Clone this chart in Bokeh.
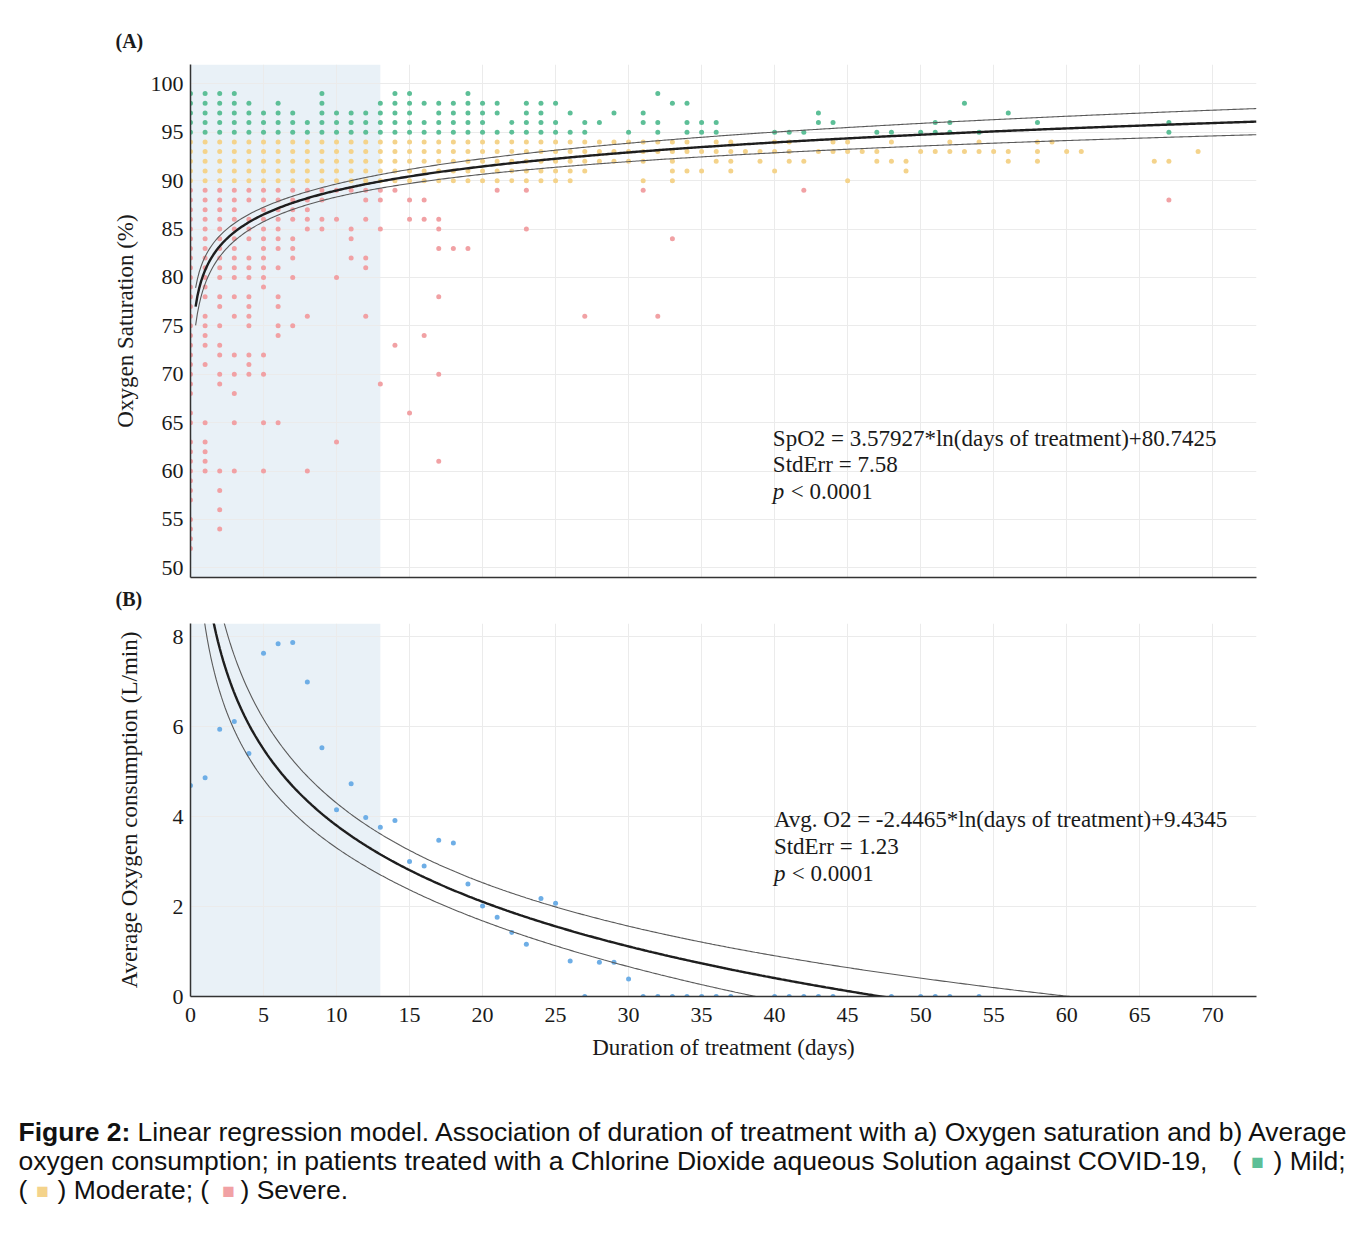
import numpy as np
from bokeh.plotting import figure
from bokeh.layouts import column
from bokeh.models import Range1d, FixedTicker, BoxAnnotation, LinearAxis, Grid, Title
from bokeh.core.properties import value
from bokeh.embed import file_html
from bokeh.resources import INLINE

# ---------------- data: panel A (SpO2 readings by day, grouped by row value) ----------------
mild_rows = {
    99: [0, 1, 2, 3, 9, 14, 15, 19, 32],
    98: [0, 1, 2, 3, 4, 6, 9, 13, 14, 15, 16, 17, 18, 19, 20, 21, 23, 24, 25, 33, 34, 53],
    97: [0, 1, 2, 3, 4, 5, 6, 7, 9, 10, 11, 12, 13, 14, 15, 17, 18, 19, 20, 21, 23, 24, 26, 29, 31, 43, 56],
    96: [0, 1, 2, 3, 4, 5, 6, 7, 8, 9, 10, 11, 12, 13, 14, 15, 16, 17, 18, 19, 20, 22, 23, 24, 25, 27, 28,
         31, 32, 34, 35, 36, 43, 44, 51, 52, 58, 67],
    95: [0, 1, 2, 3, 4, 5, 6, 7, 8, 9, 10, 11, 12, 13, 14, 15, 16, 17, 18, 19, 20, 21, 22, 23, 24, 25, 26, 27,
         30, 32, 34, 35, 36, 40, 41, 42, 47, 48, 50, 51, 52, 54, 67],
}
moderate_rows = {
    94: [0, 1, 2, 3, 4, 5, 6, 7, 8, 9, 10, 11, 12, 13, 14, 15, 16, 17, 18, 19, 20, 21, 22, 23, 24, 25, 26, 27, 28,
         29, 30, 31, 32, 33, 34, 36, 37, 40, 41, 44, 45, 48, 52, 54, 58, 59],
    93: [0, 1, 2, 3, 4, 5, 6, 7, 8, 9, 10, 11, 12, 13, 14, 15, 16, 17, 18, 19, 20, 21, 22, 23, 24, 25, 26, 27, 28,
         29, 30, 31, 32, 33, 34, 35, 36, 37, 38, 39, 40, 41, 43, 44, 45, 46, 47, 50, 51, 52, 53, 54, 55, 56,
         58, 60, 61, 69],
    92: [0, 1, 2, 3, 4, 5, 6, 7, 8, 9, 10, 11, 12, 13, 14, 15, 16, 17, 18, 19, 20, 21, 22, 23, 24, 25, 26, 27, 28,
         29, 30, 31, 33, 36, 37, 39, 41, 42, 47, 48, 49, 56, 58, 66, 67],
    91: [0, 1, 2, 3, 4, 5, 6, 7, 8, 9, 10, 11, 12, 13, 14, 15, 16, 17, 18, 19, 20, 21, 22, 23, 24, 25, 26, 27,
         33, 34, 35, 37, 40, 49],
    90: [0, 1, 2, 3, 4, 5, 6, 7, 8, 9, 10, 11, 12, 13, 14, 15, 16, 17, 18, 19, 20, 21, 22, 23, 24, 25, 26,
         31, 33, 45],
}
severe_rows = {
    89: [0, 1, 2, 3, 4, 5, 6, 7, 8, 9, 10, 11, 12, 13, 14, 21, 23, 31, 42],
    88: [0, 1, 2, 3, 4, 5, 6, 7, 8, 9, 12, 13, 15, 16, 67],
    87: [0, 1, 2, 3, 5, 6, 7, 8],
    86: [0, 1, 2, 3, 4, 5, 6, 7, 8, 9, 10, 12, 15, 16, 17],
    85: [0, 1, 2, 3, 4, 5, 6, 8, 9, 11, 13, 17, 23],
    84: [0, 1, 2, 3, 4, 5, 6, 7, 11, 33],
    83: [0, 1, 2, 3, 5, 6, 7, 17, 18, 19],
    82: [0, 1, 2, 3, 4, 5, 7, 11, 12],
    81: [0, 1, 2, 3, 4, 5, 6, 12],
    80: [0, 1, 2, 3, 4, 5, 7, 10],
    79: [0, 1, 5],
    78: [0, 1, 2, 3, 4, 6, 17],
    77: [0, 2, 4, 6],
    76: [0, 1, 3, 4, 8, 12, 27, 32],
    75: [0, 1, 2, 4, 6, 7],
    74: [0, 1, 6, 16],
    73: [0, 1, 2, 14],
    72: [0, 2, 3, 4, 5],
    71: [0, 1, 4],
    70: [0, 2, 3, 4, 5, 17],
    69: [0, 2, 13],
    68: [0, 3],
    66: [0, 15],
    65: [0, 1, 3, 5, 6],
    63: [0, 1, 10],
    62: [0, 1],
    61: [0, 1, 17],
    60: [0, 1, 2, 3, 5, 8],
    59: [0],
    58: [0, 2],
    57: [0],
    56: [2],
    55: [0],
    54: [0, 2],
    53: [0],
    52: [0],
}

# ---------------- data: panel B (average oxygen consumption by day) ----------------
o2_day = [0, 1, 2, 3, 4, 5, 6, 7, 8, 9, 10, 11, 12, 13, 14, 15, 16, 17, 18, 19, 20, 21, 22, 23, 24,
          25, 26, 27, 28, 29, 30, 31, 32, 33, 34, 35, 36, 37, 40, 41, 42, 43, 44, 48, 50, 51, 52, 54]
o2_avg = [4.69, 4.86, 5.94, 6.11, 5.40, 7.63, 7.84, 7.87, 6.99, 5.53, 4.15, 4.73, 3.98, 3.76, 3.91,
          3.00, 2.90, 3.47, 3.41, 2.50, 2.01, 1.76, 1.42, 1.16, 2.18, 2.07, 0.79, 0.0, 0.76, 0.76, 0.39,
          0.0, 0.0, 0.0, 0.0, 0.0, 0.0, 0.0, 0.0, 0.0, 0.0, 0.0, 0.0, 0.0, 0.0, 0.0, 0.0, 0.0]

# regression models (from the annotations)
spo2_slope, spo2_intercept = 3.57927, 80.7425
o2_slope, o2_intercept = -2.4465, 9.4345
# approximate confidence-band shape: half width = sqrt(a + b*(ln x - m)^2)
spo2_band = (0.45, 0.314, 2.2)
o2_band = (0.18, 0.14, 3.0)

x_ticks = [0, 5, 10, 15, 20, 25, 30, 35, 40, 45, 50, 55, 60, 65, 70]
spo2_ticks = [50, 55, 60, 65, 70, 75, 80, 85, 90, 95, 100]
o2_ticks = [0, 2, 4, 6, 8]
shade_start, shade_end = 0, 13

# ---------------- styling ----------------
SERIF = "Liberation Serif"
C_MILD = "#5dbf97"
C_MOD = "#f4d38b"
C_SEV = "#f1a1a4"
C_O2 = "#6eaee6"
C_SHADE = "#e9f1f7"
C_GRID = "#ebebeb"
C_AXIS = "#333333"
INK = "#1a1a1a"


def flatten(rows):
    xs, ys = [], []
    for v, days in rows.items():
        xs += days
        ys += [v] * len(days)
    return xs, ys


def style_axis(ax):
    ax.axis_line_color = C_AXIS
    ax.axis_line_width = 1.5
    ax.major_tick_line_color = None
    ax.minor_tick_line_color = None
    ax.major_tick_out = 0
    ax.major_tick_in = 0
    ax.minor_tick_out = 0
    ax.major_label_text_font = SERIF
    ax.major_label_text_font_size = "22px"
    ax.major_label_text_color = INK
    ax.axis_label_text_font = SERIF
    ax.axis_label_text_font_size = "23px"
    ax.axis_label_text_font_style = "normal"
    ax.axis_label_text_color = INK


def style_title(t, standoff):
    t.text_font = SERIF
    t.text_font_size = "20px"
    t.text_font_style = "bold"
    t.text_color = INK
    t.text_line_height = 0.8
    t.align = "left"
    t.offset = -75
    t.standoff = standoff


def style(p):
    p.outline_line_color = None
    p.background_fill_color = "white"
    p.border_fill_color = "white"
    for ax in p.axis:
        style_axis(ax)
    for g in p.grid:
        g.grid_line_color = C_GRID
        g.level = "underlay"


W = 1364
xr = Range1d(0, 73)

# ---------------- panel A ----------------
pA = figure(width=W, height=619, x_range=xr, y_range=Range1d(49, 102),
            output_backend="svg", toolbar_location=None, title="(A)", x_axis_type=None,
            min_border_left=190, min_border_right=108, min_border_top=64, min_border_bottom=42)
bottomA = LinearAxis(ticker=FixedTicker(ticks=[]))
pA.add_layout(bottomA, "below")
pA.add_layout(Grid(dimension=0, ticker=FixedTicker(ticks=x_ticks)))
style(pA)
style_title(pA.title, 25)
titleB = Title(text="(B)")
style_title(titleB, 16)
pA.add_layout(titleB, "below")
pA.yaxis.ticker = FixedTicker(ticks=spo2_ticks)
pA.yaxis.major_label_standoff = 7
pA.yaxis.axis_label = "Oxygen Saturation (%)"
pA.yaxis.axis_label_standoff = 10
pA.add_layout(BoxAnnotation(left=shade_start, right=shade_end, fill_color=C_SHADE, fill_alpha=1.0,
                            line_color=None, level="image"))

for rows, col in ((mild_rows, C_MILD), (moderate_rows, C_MOD), (severe_rows, C_SEV)):
    xs, ys = flatten(rows)
    pA.scatter(xs, ys, size=5, fill_color=col, line_color=None)

xa = np.linspace(0.35, 73, 600)
ya = spo2_slope * np.log(xa) + spo2_intercept
a, b, m = spo2_band
ha = np.sqrt(a + b * (np.log(xa) - m) ** 2)
pA.line(xa, ya + ha, line_color="#5a5a5a", line_width=1.1)
pA.line(xa, ya - ha, line_color="#5a5a5a", line_width=1.1)
pA.line(xa, ya, line_color="#1e1e1e", line_width=2.4)

txt = dict(text_font=value(SERIF), text_font_size="23px", text_baseline="middle", text_color=INK)
ann_x = 39.88
pA.text([ann_x], [63.4], text=["SpO2 = 3.57927*ln(days of treatment)+80.7425"], **txt)
pA.text([ann_x], [60.64], text=["StdErr = 7.58"], **txt)
pA.text([ann_x], [57.85], text=["p"], text_font_style="italic", **txt)
pA.text([41.1], [57.85], text=["< 0.0001"], **txt)

# ---------------- panel B ----------------
pB = figure(width=W, height=456, x_range=xr, y_range=Range1d(0, 8.29),
            output_backend="svg", toolbar_location=None,
            min_border_left=190, min_border_right=108, min_border_top=4, min_border_bottom=79)
style(pB)
pB.xaxis.ticker = FixedTicker(ticks=x_ticks)
pB.yaxis.ticker = FixedTicker(ticks=o2_ticks)
pB.xaxis.major_label_standoff = 11
pB.xaxis.axis_label = "Duration of treatment (days)"
pB.xaxis.axis_label_standoff = 10
pB.yaxis.major_label_standoff = 7
pB.yaxis.axis_label = "Average Oxygen consumption (L/min)"
pB.yaxis.axis_label_standoff = 28
pB.add_layout(BoxAnnotation(left=shade_start, right=shade_end, fill_color=C_SHADE, fill_alpha=1.0,
                            line_color=None, level="image"))
pB.scatter(o2_day, o2_avg, size=5, fill_color=C_O2, line_color=None)

xb = np.linspace(0.3, 73, 600)
yb = o2_slope * np.log(xb) + o2_intercept
a, b, m = o2_band
hb = np.sqrt(a + b * (np.log(xb) - m) ** 2)
pB.line(xb, yb + hb, line_color="#5a5a5a", line_width=1.1)
pB.line(xb, yb - hb, line_color="#5a5a5a", line_width=1.1)
pB.line(xb, yb, line_color="#1e1e1e", line_width=2.4)

pB.text([39.95], [3.93], text=["Avg. O2 = -2.4465*ln(days of treatment)+9.4345"], **txt)
pB.text([39.95], [3.33], text=["StdErr = 1.23"], **txt)
pB.text([39.95], [2.73], text=["p"], text_font_style="italic", **txt)
pB.text([41.17], [2.73], text=["< 0.0001"], **txt)

# ---------------- caption ----------------
pC = figure(width=W, height=158, x_range=Range1d(0, W), y_range=Range1d(1233, 1075),
            output_backend="svg", toolbar_location=None, x_axis_type=None, y_axis_type=None,
            min_border=0)
pC.frame_align = False
pC.outline_line_color = None
pC.grid.visible = False
SANS = "Liberation Sans"
cap_kw = dict(text_font=value(SANS), text_font_size="26.5px", text_baseline="middle", text_color="#111111")
pC.text([18], [1131], text=["Figure 2:"], text_font_style="bold", **cap_kw)
pC.text([137], [1131], text=["Linear regression model. Association of duration of treatment with a) Oxygen saturation and b) Average"], **cap_kw)
pC.text([18], [1160], text=["oxygen consumption; in patients treated with a Chlorine Dioxide aqueous Solution against COVID-19,"], **cap_kw)
pC.text([1232], [1160], text=["("], **cap_kw)
pC.text([1273], [1160], text=[") Mild;"], **cap_kw)
pC.text([18], [1189], text=["("], **cap_kw)
pC.text([57], [1189], text=[") Moderate; ("], **cap_kw)
pC.text([240], [1189], text=[") Severe."], **cap_kw)
sq_kw = dict(text_font=value(SANS), text_font_size="21px", text_baseline="middle", text_align="center")
pC.text([1257], [1161], text=["■"], text_color=C_MILD, **sq_kw)
pC.text([42], [1190], text=["■"], text_color=C_MOD, **sq_kw)
pC.text([228], [1190], text=["■"], text_color=C_SEV, **sq_kw)

layout = column(pA, pB, pC, spacing=0)
open("out.html", "w").write(file_html(layout, INLINE))
